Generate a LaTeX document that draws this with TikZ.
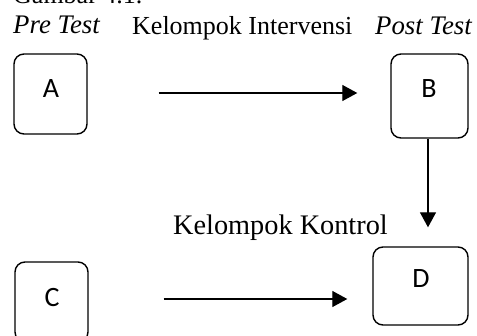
\documentclass[tikz,border=0pt]{standalone}
\usepackage{fontspec}
\setmainfont{Liberation Serif}
\newfontfamily\lblfont{Carlito}
\usetikzlibrary{arrows.meta}
\begin{document}
\begin{tikzpicture}[x=1pt,y=-1pt,
  box/.style={draw, line width=1.4pt, rounded corners=10pt, inner sep=0pt},
  lbl/.style={font=\lblfont\fontsize{28}{30}\selectfont, inner sep=0pt},
  txt/.style={font=\fontsize{26}{30}\selectfont, inner sep=0pt, anchor=base west},
  arr/.style={line width=1.3pt, -{Triangle[length=15pt,width=16pt]}}]
\useasboundingbox (0,0) rectangle (477,336);
\node[txt] (gam) at (13,4) {Gambar 4.1.};
\node[txt, font=\fontsize{26.8}{30}\selectfont] (pre) at (13,34) {\itshape Pre Test};
\node[txt] (ki) at (132,35) {Kelompok Intervensi};
\node[txt, font=\fontsize{26.8}{30}\selectfont] (post) at (375,35) {\itshape Post Test};
\node[txt, font=\fontsize{28.3}{30}\selectfont] (kk) at (173,234.5) {Kelompok Kontrol};
\node[box, minimum width=73pt, minimum height=80pt] (A) at (50.5,94) {};
\node[lbl] (lA) at (51,88.5) {A};
\node[box, minimum width=77pt, minimum height=84pt] (B) at (429.5,96) {};
\node[lbl] (lB) at (429,89) {B};
\node[box, minimum width=73pt, minimum height=80pt] (C) at (51.5,302) {};
\node[lbl] (lC) at (52,298) {C};
\node[box, minimum width=95pt, minimum height=78pt] (D) at (420.5,286) {};
\node[lbl] (lD) at (421,279) {D};
\draw[arr, shorten <=71pt, shorten >=33pt] ([yshift=1pt]A.east) -- ([yshift=1pt]A.east -| B.west);
\draw[arr, shorten >=19pt] ([xshift=-1.5pt]B.south) -- ([xshift=-1.5pt]B.south |- D.north);
\draw[arr, shorten <=75pt, shorten >=25pt] ([yshift=3pt]C.east) -- ([yshift=3pt]C.east -| D.west);
\end{tikzpicture}
\end{document}
